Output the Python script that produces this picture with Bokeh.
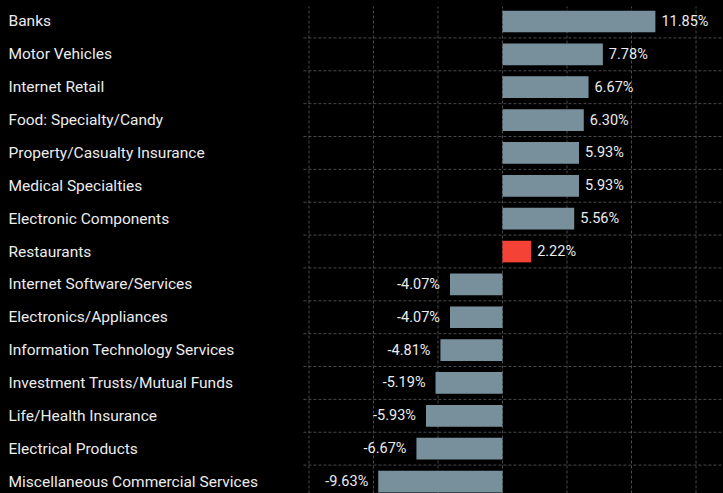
import numpy as np
from bokeh.plotting import figure
from bokeh.models import ColumnDataSource, Range1d, GlobalInlineStyleSheet
from bokeh.core.properties import value
from bokeh.embed import file_html
from bokeh.resources import INLINE

# ---- data ----
categories = [
    "Banks", "Motor Vehicles", "Internet Retail", "Food: Specialty/Candy",
    "Property/Casualty Insurance", "Medical Specialties", "Electronic Components",
    "Restaurants", "Internet Software/Services", "Electronics/Appliances",
    "Information Technology Services", "Investment Trusts/Mutual Funds",
    "Life/Health Insurance", "Electrical Products", "Miscellaneous Commercial Services",
]
values = [11.85, 7.78, 6.67, 6.30, 5.93, 5.93, 5.56, 2.22,
          -4.07, -4.07, -4.81, -5.19, -5.93, -6.67, -9.63]
highlight = ["Restaurants"]
grid_ticks = [-15, -10, -5, 0, 5, 10, 15]

# ---- styles ----
BG = "#000000"
BAR = "#78909c"
RED = "#f44336"
TXT = "#ececec"
GRID = "#4a4a4a"
FONT = value("Roboto")

n = len(categories)
ypos = list(np.arange(n)[::-1].astype(float))
colors = [RED if c in highlight else BAR for c in categories]

W, H = 723, 493
x_start, x_end = -38.91, 17.13
y_top, y_bottom = 14.639, -0.364
grid_left = -15.43
vgrid_top = 14.456

p = figure(width=W, height=H, output_backend="svg", toolbar_location=None,
           x_range=Range1d(x_start, x_end), y_range=Range1d(y_bottom, y_top),
           x_axis_location=None, y_axis_location=None,
           min_border=0, min_border_left=0, min_border_right=0,
           min_border_top=0, min_border_bottom=0)
p.grid.visible = False
p.outline_line_color = None
p.background_fill_color = BG
p.border_fill_color = BG
p.stylesheets = [GlobalInlineStyleSheet(css="html, body { background: #000000; }")]

# grid lines
hy = list(np.arange(n - 1) + 0.5)
p.segment(x0=[grid_left] * len(hy), x1=[x_end] * len(hy), y0=hy, y1=hy,
          line_color=GRID, line_dash="3 2", line_width=1)
p.segment(x0=grid_ticks, x1=grid_ticks, y0=[y_bottom] * len(grid_ticks),
          y1=[vgrid_top] * len(grid_ticks), line_color=GRID, line_dash="3 2", line_width=1)

src = ColumnDataSource(dict(cat=categories, y=ypos, v=values, color=colors,
                            lx=[x_start] * n))
p.hbar(y="y", left=0, right="v", height=0.66, fill_color="color",
       line_color=None, source=src)

# category labels
p.text(x="lx", y="y", text="cat", source=src, x_offset=8, text_font=FONT,
       text_font_size="15.5px", text_color=TXT, text_align="left",
       text_baseline="middle")

pos = [i for i, v in enumerate(values) if v >= 0]
neg = [i for i, v in enumerate(values) if v < 0]
psrc = ColumnDataSource(dict(x=[values[i] for i in pos], y=[ypos[i] for i in pos],
                             t=[f"{values[i]:.2f}%" for i in pos]))
nsrc = ColumnDataSource(dict(x=[values[i] for i in neg], y=[ypos[i] for i in neg],
                             t=[f"{values[i]:.2f}%" for i in neg]))
p.text(x="x", y="y", text="t", source=psrc, x_offset=6, text_font=FONT,
       text_font_size="14.5px", text_color=TXT, text_align="left",
       text_baseline="middle")
p.text(x="x", y="y", text="t", source=nsrc, x_offset=-10, text_font=FONT,
       text_font_size="14.5px", text_color=TXT, text_align="right",
       text_baseline="middle")

open("out.html", "w").write(file_html(p, INLINE))
